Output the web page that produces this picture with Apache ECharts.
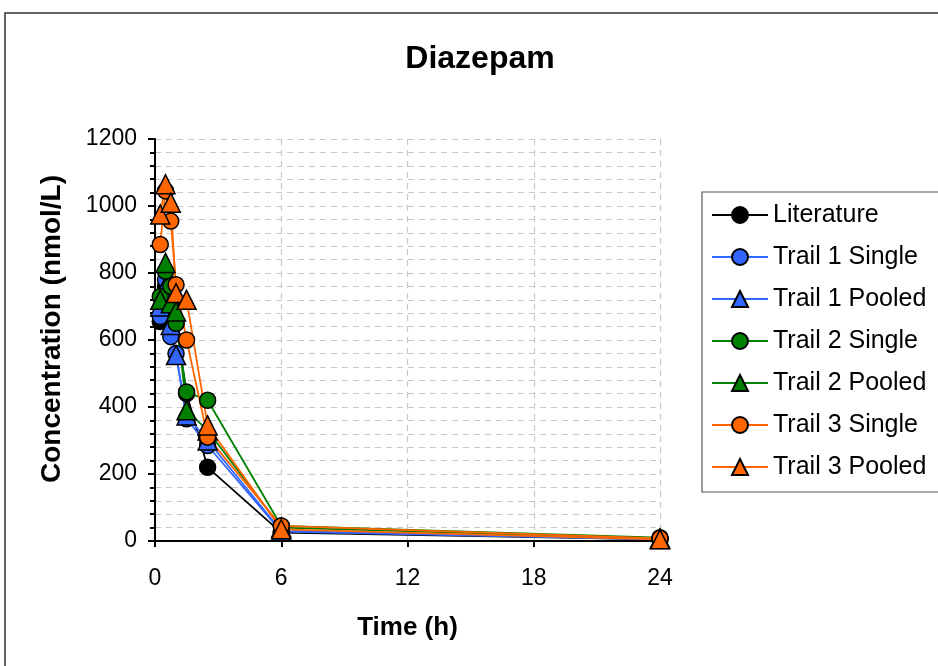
<!DOCTYPE html>
<html>
<head>
<meta charset="utf-8">
<script src="https://cdn.jsdelivr.net/npm/echarts@6/dist/echarts.min.js"></script>
<style>html,body{margin:0;padding:0;background:#fff}#c{width:938px;height:666px}</style>
</head>
<body>
<div id="c"></div>
<script>
const times = [0.25, 0.5, 0.75, 1, 1.5, 2.5, 6, 24];
const xTicks = [0, 6, 12, 18, 24];
const literature = [655, 760, 700, 650, 440, 220, 25, 5];
const trail1Single = [670, 780, 610, 560, 365, 285, 28, 5];
const trail1Pooled = [700, 760, 645, 555, 375, 300, 30, 6];
const trail2Single = [730, 805, 760, 650, 445, 420, 45, 10];
const trail2Pooled = [720, 830, 710, 685, 390, 330, 40, 8];
const trail3Single = [885, 1045, 955, 765, 600, 310, 45, 8];
const trail3Pooled = [975, 1065, 1010, 740, 720, 345, 35, 5];

const seriesDefs = [
  ['Literature', literature, '#000000', 'circle'],
  ['Trail 1 Single', trail1Single, '#3366ff', 'circle'],
  ['Trail 1 Pooled', trail1Pooled, '#3366ff', 'triangle'],
  ['Trail 2 Single', trail2Single, '#008000', 'circle'],
  ['Trail 2 Pooled', trail2Pooled, '#008000', 'triangle'],
  ['Trail 3 Single', trail3Single, '#ff6600', 'circle'],
  ['Trail 3 Pooled', trail3Pooled, '#ff6600', 'triangle']
];
const FONT = 'Liberation Sans, Arial, sans-serif';
const chart = echarts.init(document.getElementById('c'));
chart.setOption({
  animation: false,
  backgroundColor: '#fff',
  graphic: [
    {type: 'rect', shape: {x: 5, y: 13, width: 940, height: 660}, style: {fill: 'none', stroke: '#333', lineWidth: 1.5}, z: -1},
    {type: 'text', x: 52, y: 329, rotation: Math.PI / 2,
      style: {text: 'Concentration (nmol/L)', fill: '#000', font: 'bold 28px ' + FONT, align: 'center', verticalAlign: 'middle'}}
  ],
  title: {text: 'Diazepam', left: 475, top: 38, textAlign: 'center',
    textStyle: {fontFamily: FONT, fontSize: 32, fontWeight: 'bold', color: '#000'}},
  grid: {left: 155, right: 278, top: 139, bottom: 125},
  legend: {
    orient: 'vertical', left: 702, top: 192,
    padding: [10, 30, 12, 9], itemGap: 16, itemWidth: 56, itemHeight: 20,
    borderColor: '#555', borderWidth: 1.2,
    textStyle: {fontFamily: FONT, fontSize: 25, color: '#000', lineHeight: 26},
    data: seriesDefs.map(d => d[0])
  },
  xAxis: {
    type: 'value', min: 0, max: 24, interval: 6,
    name: 'Time (h)', nameLocation: 'middle', nameGap: 74,
    nameTextStyle: {fontFamily: FONT, fontSize: 26, fontWeight: 'bold', color: '#000'},
    axisLine: {onZero: false, lineStyle: {color: '#000', width: 2}},
    axisTick: {show: true, length: 6, lineStyle: {color: '#000', width: 2}},
    axisLabel: {fontFamily: FONT, fontSize: 23, color: '#000', margin: 26},
    splitLine: {show: true, lineStyle: {color: '#c8c8c8', type: [6, 5], width: 1.2}}
  },
  yAxis: {
    type: 'value', min: 0, max: 1200, interval: 200,
    axisLine: {show: true, lineStyle: {color: '#000', width: 2}},
    axisTick: {show: true, length: 7, lineStyle: {color: '#000', width: 2}},
    minorTick: {show: true, splitNumber: 5, length: 5, lineStyle: {color: '#000', width: 2}},
    minorSplitLine: {show: true, lineStyle: {color: '#c8c8c8', type: [6, 5], width: 1.2}},
    axisLabel: {fontFamily: FONT, fontSize: 23, color: '#000', margin: 18, formatter: v => String(v)},
    splitLine: {show: true, lineStyle: {color: '#c8c8c8', type: [6, 5], width: 1.2}}
  },
  series: seriesDefs.map(d => ({
    name: d[0], type: 'line',
    data: times.map((t, i) => [t, d[1][i]]),
    symbol: d[3], symbolSize: d[3] === 'circle' ? 16 : 19,
    lineStyle: {color: d[2], width: 1.8},
    itemStyle: {color: d[2], borderColor: '#000', borderWidth: 1.5}
  }))
});
</script>
</body>
</html>
